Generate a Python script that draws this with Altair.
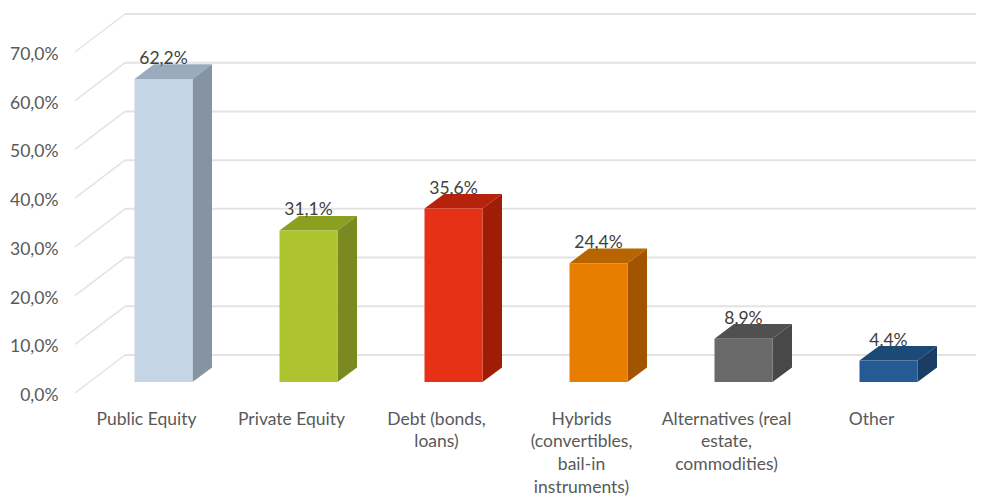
import json
import altair as alt
import pandas as pd

categories = [
    "Public Equity",
    "Private Equity",
    "Debt (bonds,\nloans)",
    "Hybrids\n(convertibles,\nbail-in\ninstruments)",
    "Alternatives (real\nestate,\ncommodities)",
    "Other",
]
values = [62.2, 31.1, 35.6, 24.4, 8.9, 4.4]
front_colors = ["#C4D5E6", "#ADC32F", "#E53115", "#E87D00", "#696969", "#255A94"]
top_colors = ["#9AABBD", "#8CA01F", "#B5230D", "#B86400", "#505050", "#1A4A75"]
side_colors = ["#8494A3", "#7A8A20", "#9F1C06", "#A35400", "#484848", "#1A3D66"]
y_ticks = [0, 10, 20, 30, 40, 50, 60, 70]

# 3D geometry in axis units (one x unit = one category slot, y unit = percent)
X_DOMAIN = [-0.4966, 5.7172]
Y_DOMAIN = [0, 70]
BAR_LEFT, BAR_RIGHT = -0.0862, 0.3138
BASE = 2.26
DEPTH_X, DEPTH_Y = 0.1345, 3.0
WALL_X, WALL_Y = -0.4966 + 0.345, 7.8
FONT_SIZE = 17.5

xs = alt.Scale(domain=X_DOMAIN, nice=False, zero=False)
ys = alt.Scale(domain=Y_DOMAIN, nice=False, zero=False)

front, faces, labels = [], [], []
for i, v in enumerate(values):
    L, R, T = i + BAR_LEFT, i + BAR_RIGHT, v + BASE
    front.append(dict(x=L, x2=R, y=BASE, y2=T, c=front_colors[i]))
    labels.append(dict(x=(L + R) / 2, y=T, t=f"{v:.1f}%".replace(".", ",")))
    top = [
        (L, T, T),
        (L + DEPTH_X, T, T + DEPTH_Y),
        (R, T, T + DEPTH_Y),
        (R + DEPTH_X, T + DEPTH_Y, T + DEPTH_Y),
    ]
    side = [
        (R, BASE, T),
        (R + DEPTH_X, BASE + DEPTH_Y, T + DEPTH_Y),
    ]
    for px, py, py2 in top:
        faces.append(dict(g=f"t{i}", x=px, y=py, y2=py2, c=top_colors[i]))
    for px, py, py2 in side:
        faces.append(dict(g=f"s{i}", x=px, y=py, y2=py2, c=side_colors[i]))

walls = pd.DataFrame(
    [dict(x=X_DOMAIN[0], xw=WALL_X, xe=X_DOMAIN[1], y=t, yw=t + WALL_Y) for t in y_ticks]
)

label_expr = "split(" + json.dumps(categories) + "[datum.value], '\\n')"
x_axis = alt.Axis(
    values=[0, 1, 2, 3, 4, 5],
    labelExpr=label_expr,
    domain=False,
    ticks=False,
    grid=False,
    labelAngle=0,
    labelAlign="center",
    labelBaseline="top",
    labelPadding=17,
    labelOffset=-1,
    labelLineHeight=22.7,
    labelFont="Lato",
    labelFontSize=FONT_SIZE,
    labelColor="#595959",
    labelOverlap=False,
    labelBound=False,
    labelFlush=False,
)
y_axis = alt.Axis(
    values=y_ticks,
    labelExpr="replace(format(datum.value, '.1f'), '.', ',') + '%'",
    domain=False,
    ticks=False,
    grid=False,
    labelPadding=17,
    labelOffset=2.5,
    labelFont="Lato",
    labelFontSize=FONT_SIZE,
    labelColor="#595959",
    labelOverlap=False,
    labelBound=False,
)


def X(field):
    return alt.X(field, scale=xs, axis=x_axis, title=None)


def Y(field, **kw):
    return alt.Y(field, scale=ys, axis=y_axis, title=None, **kw)


GRID = "#E3E3E3"
wall_lines = alt.Chart(walls).mark_rule(color=GRID, strokeWidth=2).encode(
    x=X("xw:Q"),
    x2="xe:Q",
    y=Y("yw:Q"),
)
diagonals = alt.Chart(walls).mark_rule(color=GRID, strokeWidth=1.5).encode(
    x=X("x:Q"),
    x2="xw:Q",
    y=Y("y:Q"),
    y2="yw:Q",
)
face_layer = alt.Chart(pd.DataFrame(faces)).mark_area(interpolate="linear", opacity=1).encode(
    x=X("x:Q"),
    y=Y("y:Q", stack=None),
    y2="y2:Q",
    detail="g:N",
    color=alt.Color("c:N", scale=None),
)
front_layer = alt.Chart(pd.DataFrame(front)).mark_rect().encode(
    x=X("x:Q"),
    x2="x2:Q",
    y=Y("y:Q"),
    y2="y2:Q",
    color=alt.Color("c:N", scale=None),
)
label_layer = alt.Chart(pd.DataFrame(labels)).mark_text(
    font="Lato", fontSize=FONT_SIZE, color="#404040", dy=-20, baseline="middle", align="center"
).encode(
    x=X("x:Q"),
    y=Y("y:Q"),
    text="t:N",
)

chart = (
    alt.layer(wall_lines, diagonals, face_layer, front_layer, label_layer)
    .properties(
        width=901,
        height=341,
        padding={"left": 67, "top": 44, "right": 0, "bottom": 107},
        autosize=alt.AutoSizeParams(type="none"),
        background="#FFFFFF",
    )
    .configure_view(stroke=None)
)

chart.save("out.html", embed_options={"renderer": "svg", "actions": False})
